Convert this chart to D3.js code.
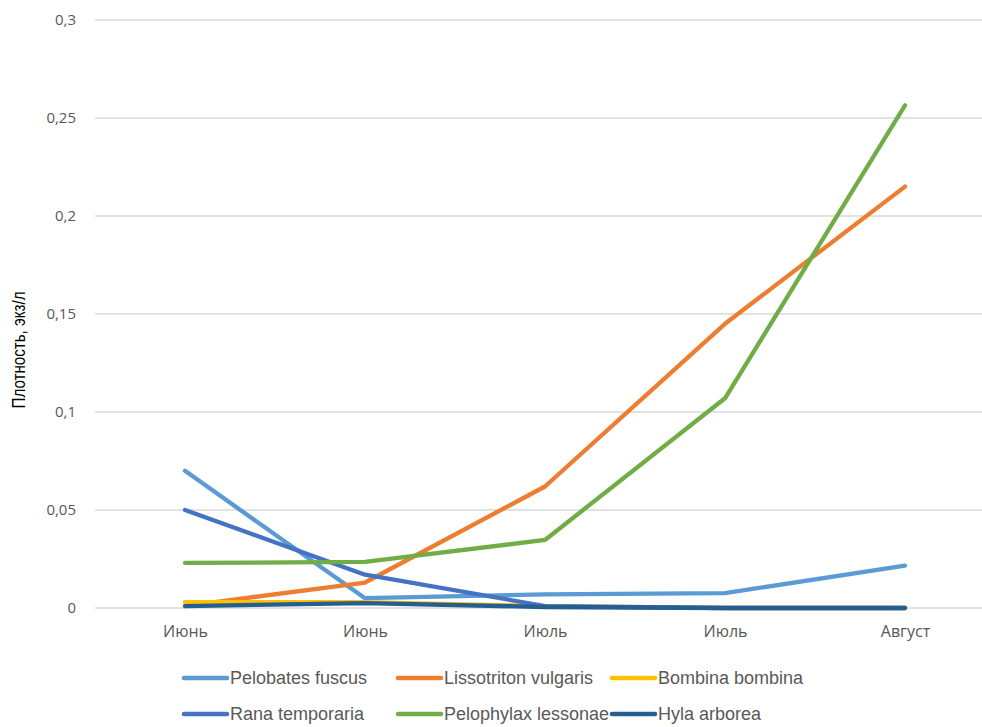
<!DOCTYPE html>
<html>
<head>
<meta charset="utf-8">
<script src="https://cdn.jsdelivr.net/npm/d3@7"></script>
<style>
  body { margin: 0; background: #fff; }
  svg { display: block; }
</style>
</head>
<body>
<svg id="chart"></svg>
<script>
// month labels on the x axis
const months = ['Июнь', 'Июнь', 'Июль', 'Июль', 'Август'];
const yTicks = [0, 0.05, 0.1, 0.15, 0.2, 0.25, 0.3];

const pelobates = [0.07, 0.005, 0.007, 0.0076, 0.0216];
const lissotriton = [0.001, 0.013, 0.062, 0.145, 0.215];
const bombina = [0.003, 0.003, 0.001, 0, 0];
const rana = [0.05, 0.017, 0.001, 0, 0];
const pelophylax = [0.023, 0.0235, 0.0347, 0.107, 0.2565];
const hyla = [0.001, 0.0025, 0.0005, 0, 0];

const series = [
    { name: 'Pelobates fuscus', values: pelobates, color: '#5B9BD5' },
    { name: 'Lissotriton vulgaris', values: lissotriton, color: '#ED7D31' },
    { name: 'Bombina bombina', values: bombina, color: '#FFC000' },
    { name: 'Rana temporaria', values: rana, color: '#4472C4' },
    { name: 'Pelophylax lessonae', values: pelophylax, color: '#70AD47' },
    { name: 'Hyla arborea', values: hyla, color: '#255E91' }
];

const width = 982;
const height = 727;

const svg = d3.select('#chart')
    .attr('width', width)
    .attr('height', height);

const x = d3.scalePoint()
    .domain(d3.range(months.length))
    .range([95, 995])
    .padding(0.5);

const y = d3.scaleLinear()
    .domain([0, 0.3])
    .range([608, 20]);

const fmt = d => String(d).replace('.', ',');

// gridlines
svg.append('g')
    .selectAll('line')
    .data(yTicks)
    .enter().append('line')
    .attr('x1', 95)
    .attr('x2', 982)
    .attr('y1', d => y(d))
    .attr('y2', d => y(d))
    .attr('stroke', '#d9d9d9')
    .attr('stroke-width', 1.3);

// y axis labels
const yAxis = d3.axisLeft(y).tickValues(yTicks).tickFormat(fmt).tickSize(0).tickPadding(0);
svg.append('g')
    .attr('transform', 'translate(76,0)')
    .call(yAxis)
    .call(g => g.select('.domain').remove())
    .selectAll('text')
    .attr('fill', '#595959')
    .style('font-family', '"Open Sans", "Liberation Sans", sans-serif')
    .style('font-size', '15px');

// x axis labels
const xAxis = d3.axisBottom(x).tickFormat(i => months[i]).tickSize(0).tickPadding(0);
svg.append('g')
    .attr('transform', 'translate(0,626)')
    .call(xAxis)
    .call(g => g.select('.domain').remove())
    .selectAll('text')
    .attr('fill', '#595959')
    .style('font-family', '"Open Sans", "Liberation Sans", sans-serif')
    .style('font-size', '16px');

// y axis title (narrow font in the original, so squeeze it)
svg.append('text')
    .attr('transform', 'translate(25,350) rotate(-90)')
    .attr('text-anchor', 'middle')
    .attr('fill', '#000')
    .attr('textLength', 117)
    .attr('lengthAdjust', 'spacingAndGlyphs')
    .style('font-family', '"Liberation Sans", Arial, sans-serif')
    .style('font-size', '18px')
    .text('Плотность, экз/л');

const line = d3.line()
    .x((d, i) => x(i))
    .y(d => y(d));

svg.append('g')
    .selectAll('path')
    .data(series)
    .enter().append('path')
    .attr('d', d => line(d.values))
    .attr('fill', 'none')
    .attr('stroke', d => d.color)
    .attr('stroke-width', 4.3)
    .attr('stroke-linejoin', 'round')
    .attr('stroke-linecap', 'round');

// legend, 3 per row
const legendX = [182, 396, 610];
const legendY = [678, 714];
const legend = svg.append('g')
    .selectAll('g')
    .data(series)
    .enter().append('g')
    .attr('transform', (d, i) => `translate(${legendX[i % 3]},${legendY[Math.floor(i / 3)]})`);

legend.append('line')
    .attr('x1', 2)
    .attr('x2', 45)
    .attr('stroke', d => d.color)
    .attr('stroke-width', 4.5)
    .attr('stroke-linecap', 'round');

legend.append('text')
    .attr('x', 48)
    .attr('dy', '0.35em')
    .attr('fill', '#595959')
    .style('font-family', '"Liberation Sans", sans-serif')
    .style('font-size', '18px')
    .text(d => d.name);
</script>
</body>
</html>
